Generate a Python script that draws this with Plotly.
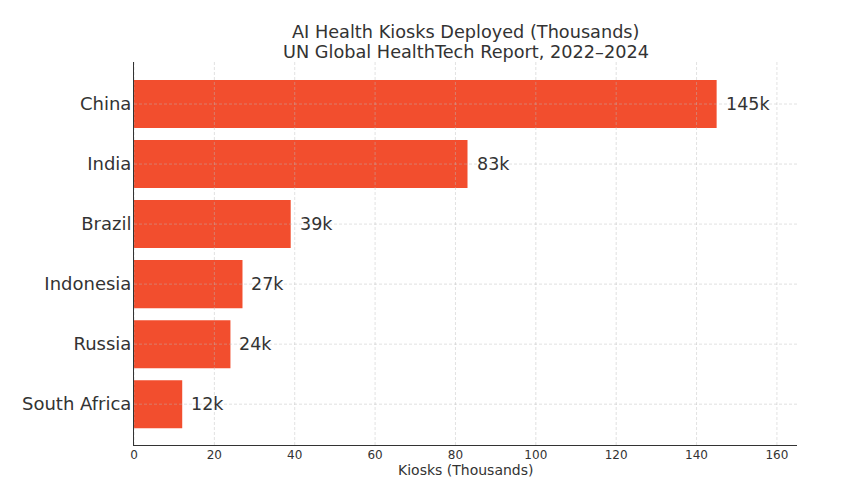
import plotly.graph_objects as go

countries = ["China", "India", "Brazil", "Indonesia", "Russia", "South Africa"]
kiosks = [145, 83, 39, 27, 24, 12]
labels = ["145k", "83k", "39k", "27k", "24k", "12k"]
x_ticks = [0, 20, 40, 60, 80, 100, 120, 140, 160]

BAR_COLOR = "#F24E2E"
TEXT_COLOR = "#333333"
GRID_COLOR = "rgba(185,185,185,0.55)"

fig = go.Figure()
fig.add_trace(
    go.Bar(
        x=kiosks,
        y=countries,
        orientation="h",
        width=0.8,
        marker=dict(color=BAR_COLOR, line=dict(width=0)),
        hoverinfo="x+y",
    )
)

# value labels just right of each bar
for c, v, lab in zip(countries, kiosks, labels):
    fig.add_annotation(
        x=v, y=c, text=lab, showarrow=False,
        xanchor="left", yanchor="middle", xshift=7,
        font=dict(size=17.5, color=TEXT_COLOR),
    )

# grid drawn on top of the bars (like matplotlib with grid above)
for t in x_ticks:
    fig.add_shape(type="line", xref="x", yref="paper", x0=t, x1=t, y0=0, y1=1,
                  line=dict(color=GRID_COLOR, width=0.8, dash="3px,2px"), layer="above")
for c in countries:
    fig.add_shape(type="line", xref="paper", yref="y", x0=0, x1=1, y0=c, y1=c,
                  line=dict(color=GRID_COLOR, width=0.8, dash="3px,2px"), layer="above")

# two-line title and x axis title
fig.add_annotation(text="AI Health Kiosks Deployed (Thousands)", xref="paper", yref="paper",
                   x=0.5, y=1.078, xanchor="center", yanchor="middle", showarrow=False,
                   font=dict(size=17.7, color=TEXT_COLOR))
fig.add_annotation(text="UN Global HealthTech Report, 2022–2024", xref="paper", yref="paper",
                   x=0.5, y=1.026, xanchor="center", yanchor="middle", showarrow=False,
                   font=dict(size=17.7, color=TEXT_COLOR))
fig.add_annotation(text="Kiosks (Thousands)", xref="paper", yref="paper",
                   x=0.5, y=-0.0653, xanchor="center", yanchor="middle", showarrow=False,
                   font=dict(size=14, color=TEXT_COLOR))

fig.update_layout(
    width=850,
    height=475,
    margin=dict(l=126, r=61, t=54, b=38),
    paper_bgcolor="white",
    plot_bgcolor="white",
    font=dict(family="DejaVu Sans", color=TEXT_COLOR),
    showlegend=False,
)
fig.update_xaxes(
    range=[0, 165],
    tickvals=x_ticks,
    tickfont=dict(size=12),
    showgrid=False,
    showline=True, linecolor="#333333", linewidth=1,
    zeroline=False, ticks="",
    ticklabelstandoff=-1,
    automargin=False,
)
fig.update_yaxes(
    range=[5.68, -0.7],
    tickfont=dict(size=18),
    showgrid=False,
    showline=True, linecolor="#333333", linewidth=1,
    zeroline=False, ticks="",
    ticklabelstandoff=-2,
    automargin=False,
)

fig.write_html("out.html")
